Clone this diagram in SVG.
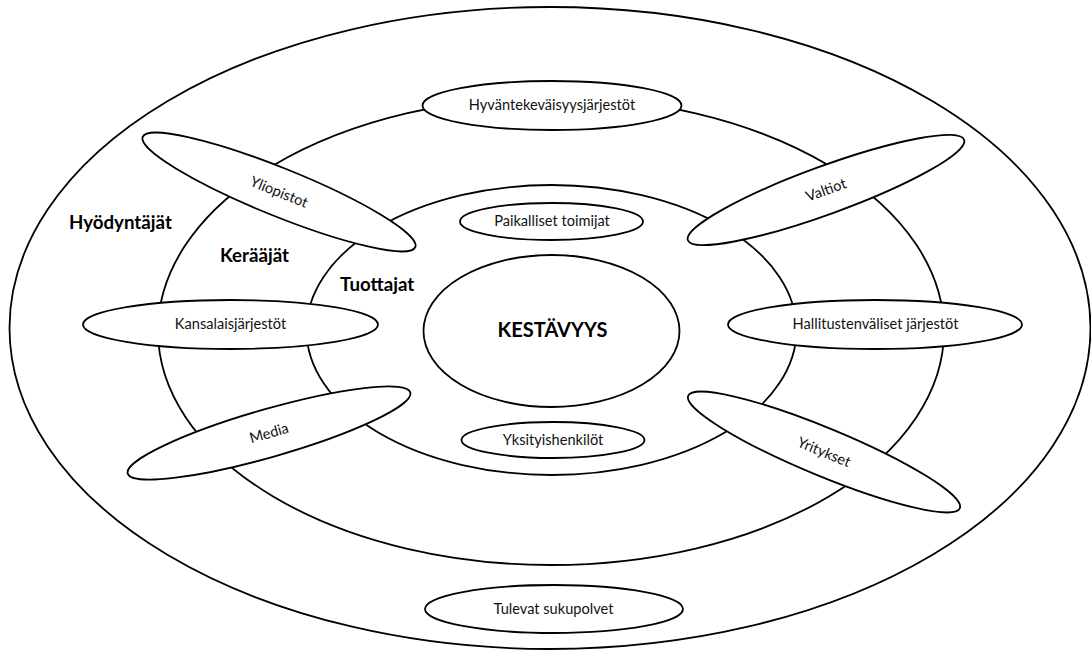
<svg xmlns="http://www.w3.org/2000/svg" width="1091" height="650" viewBox="0 0 1091 650">
  <style>
    .ring { fill: #ffffff; stroke: #000000; stroke-width: 1.8; }
    .node { fill: #ffffff; stroke: #000000; stroke-width: 1.8; }
    .lbl { font-family: Lato, "Open Sans", "Liberation Sans", sans-serif; font-size: 14.6px; fill: #111111; text-anchor: middle; }
    .ring-lbl { font-family: Lato, "Open Sans", "Liberation Sans", sans-serif; font-size: 18.7px; font-weight: bold; fill: #000000; }
    .core-lbl { font-family: Lato, "Open Sans", "Liberation Sans", sans-serif; font-size: 20px; font-weight: bold; fill: #000000; text-anchor: middle; }
  </style>
  <rect width="1091" height="650" fill="#ffffff"/>

  <!-- concentric rings -->
  <g id="rings">
    <ellipse class="ring" cx="550" cy="328" rx="540.5" ry="321"/>
    <ellipse class="ring" cx="551" cy="331" rx="393" ry="234"/>
    <ellipse class="ring" cx="551.5" cy="330" rx="245" ry="145"/>
  </g>

  <g id="ring-labels">
    <text class="ring-lbl" x="69" y="228.5">Hyödyntäjät</text>
    <text class="ring-lbl" x="220" y="262">Kerääjät</text>
    <text class="ring-lbl" x="340" y="291">Tuottajat</text>
  </g>

  <g id="kestavyys">
    <ellipse class="node" cx="551.5" cy="331" rx="128" ry="76"/>
    <text class="core-lbl" x="552.5" y="337">KESTÄVYYS</text>
  </g>

  <g id="hyvantekevaisyysjarjestot">
    <ellipse class="node" cx="552" cy="105.5" rx="129.5" ry="24.5"/>
    <text class="lbl" x="552" y="110">Hyväntekeväisyysjärjestöt</text>
  </g>

  <g id="paikalliset-toimijat">
    <ellipse class="node" cx="551.5" cy="221.5" rx="91.5" ry="18.5"/>
    <text class="lbl" x="552" y="226">Paikalliset toimijat</text>
  </g>

  <g id="yksityishenkilot">
    <ellipse class="node" cx="553" cy="440" rx="91.5" ry="18"/>
    <text class="lbl" x="553" y="445">Yksityishenkilöt</text>
  </g>

  <g id="kansalaisjarjestot">
    <ellipse class="node" cx="230.5" cy="324.5" rx="147.5" ry="24.5"/>
    <text class="lbl" x="230.5" y="329">Kansalaisjärjestöt</text>
  </g>

  <g id="hallitustenvaliset-jarjestot">
    <ellipse class="node" cx="875" cy="324.5" rx="147" ry="24.5"/>
    <text class="lbl" x="875.5" y="329">Hallitustenväliset järjestöt</text>
  </g>

  <g id="tulevat-sukupolvet">
    <ellipse class="node" cx="554" cy="609" rx="129" ry="24"/>
    <text class="lbl" x="553.5" y="613.5">Tulevat sukupolvet</text>
  </g>

  <g id="yliopistot" transform="translate(279 192) rotate(22)">
    <ellipse class="node" cx="0" cy="0" rx="147" ry="24"/>
    <text class="lbl" x="0" y="5">Yliopistot</text>
  </g>

  <g id="valtiot" transform="translate(826 190) rotate(-20)">
    <ellipse class="node" cx="0" cy="0" rx="147" ry="24"/>
    <text class="lbl" x="0" y="5">Valtiot</text>
  </g>

  <g id="media" transform="translate(269 433) rotate(-16)">
    <ellipse class="node" cx="0" cy="0" rx="147" ry="24"/>
    <text class="lbl" x="0" y="5">Media</text>
  </g>

  <g id="yritykset" transform="translate(824 452) rotate(22.5)">
    <ellipse class="node" cx="0" cy="0" rx="147" ry="24"/>
    <text class="lbl" x="0" y="5">Yritykset</text>
  </g>

  <!-- no connectors: the rings carry the structure -->
  <g id="connectors"/>
</svg>
